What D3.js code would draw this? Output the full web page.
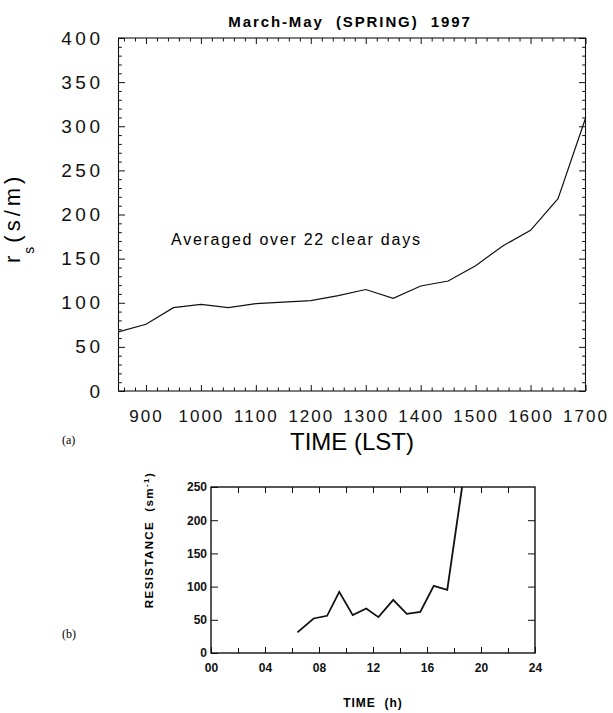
<!DOCTYPE html>
<html>
<head>
<meta charset="utf-8">
<script src="https://cdn.jsdelivr.net/npm/d3@7"></script>
<style>
  body { margin: 0; background: #fff; }
  svg { display: block; }
  .sans { font-family: "Liberation Sans", Arial, Helvetica, sans-serif; }
</style>
</head>
<body>
<svg width="613" height="713"></svg>
<script>
// ---- panel (a): averaged surface resistance, spring 1997 ----
const timeLST = [850, 900, 950, 1000, 1050, 1100, 1150, 1200, 1250, 1300, 1350, 1400, 1450, 1500, 1550, 1600, 1650, 1700];
const rsValues = [67, 75.6, 94.4, 98.2, 94.4, 98.9, 100.8, 102.5, 108, 115, 105, 119, 124.6, 142, 164.6, 182, 218, 309];
const xTicksA = [900, 1000, 1100, 1200, 1300, 1400, 1500, 1600, 1700];
const yTicksA = [0, 50, 100, 150, 200, 250, 300, 350, 400];

// ---- panel (b): resistance vs time (h) ----
const hoursB = [6.4, 7.6, 8.6, 9.5, 10.5, 11.5, 12.4, 13.5, 14.5, 15.5, 16.5, 17.5, 18.6];
const resistB = [31, 52, 56, 92, 57, 67, 54, 80, 59, 62, 101, 95, 250];
const xTicksB = [0, 4, 8, 12, 16, 20, 24];
const xTickLabelsB = ["00", "04", "08", "12", "16", "20", "24"];
const yTicksB = [0, 50, 100, 150, 200, 250];

const svg = d3.select("svg");

function styleAxis(g) {
  g.select(".domain").remove();
  g.selectAll(".tick line").attr("stroke", "#111").attr("stroke-width", 1);
}

// ===================== PANEL A =====================
const xA = d3.scaleLinear().domain([850, 1700]).range([118.5, 585.5]);
const yA = d3.scaleLinear().domain([0, 400]).range([391, 38]);
const minorXA = d3.range(860, 1700, 20).filter(v => v % 100 !== 0);
const minorYA = d3.range(10, 400, 10).filter(v => v % 50 !== 0);

const gA = svg.append("g").attr("class", "sans");

// bottom
gA.append("g").attr("transform", `translate(0,${yA(0)})`)
  .call(d3.axisBottom(xA).tickValues(xTicksA).tickSize(-6).tickPadding(19).tickFormat(d3.format("d")))
  .call(styleAxis)
  .call(g => g.selectAll("text").attr("fill", "#111").style("font-size", "17px").style("letter-spacing", "2px").attr("font-family", null));
gA.append("g").attr("transform", `translate(0,${yA(0)})`)
  .call(d3.axisBottom(xA).tickValues(minorXA).tickSize(-3.5).tickFormat(""))
  .call(styleAxis);
// top
gA.append("g").attr("transform", `translate(0,${yA(400)})`)
  .call(d3.axisTop(xA).tickValues(xTicksA).tickSize(-6).tickFormat(""))
  .call(styleAxis);
gA.append("g").attr("transform", `translate(0,${yA(400)})`)
  .call(d3.axisTop(xA).tickValues(minorXA).tickSize(-3.5).tickFormat(""))
  .call(styleAxis);
// left
gA.append("g").attr("transform", `translate(${xA(850)},0)`)
  .call(d3.axisLeft(yA).tickValues(yTicksA).tickSize(-6.5).tickPadding(15))
  .call(styleAxis)
  .call(g => g.selectAll("text").attr("fill", "#111").style("font-size", "19px").style("letter-spacing", "3.5px").attr("font-family", null));
gA.append("g").attr("transform", `translate(${xA(850)},0)`)
  .call(d3.axisLeft(yA).tickValues(minorYA).tickSize(-3.3).tickFormat(""))
  .call(styleAxis);
// right
gA.append("g").attr("transform", `translate(${xA(1700)},0)`)
  .call(d3.axisRight(yA).tickValues(yTicksA).tickSize(-6.5).tickFormat(""))
  .call(styleAxis);
gA.append("g").attr("transform", `translate(${xA(1700)},0)`)
  .call(d3.axisRight(yA).tickValues(minorYA).tickSize(-3.3).tickFormat(""))
  .call(styleAxis);

// frame
gA.append("rect")
  .attr("x", xA(850)).attr("y", yA(400))
  .attr("width", xA(1700) - xA(850)).attr("height", yA(0) - yA(400))
  .attr("fill", "none").attr("stroke", "#111").attr("stroke-width", 1.1);

// series
const lineA = d3.line().x((d, i) => xA(timeLST[i])).y(d => yA(d));
gA.append("path").datum(rsValues)
  .attr("d", lineA).attr("fill", "none").attr("stroke", "#111").attr("stroke-width", 1.2);

// title + notes
gA.append("text").attr("x", 350).attr("y", 27).attr("text-anchor", "middle")
  .style("font-size", "15px").style("font-weight", "bold").style("letter-spacing", "1.9px")
  .attr("xml:space", "preserve")
  .text("March-May  (SPRING)  1997");

gA.append("text").attr("x", 171).attr("y", 245)
  .style("font-size", "16px").style("letter-spacing", "1.75px")
  .text("Averaged over 22 clear days");

gA.append("text").attr("x", 290).attr("y", 450)
  .style("font-size", "24px")
  .text("TIME (LST)");

// y label r_s (s/m)
const yl = gA.append("text").attr("transform", "translate(20,263) rotate(-90)")
  .style("font-size", "22px");
yl.append("tspan").text("r");
yl.append("tspan").attr("dy", 14).attr("dx", 2).style("font-size", "14px").text("s");
yl.append("tspan").attr("dy", -14).attr("dx", 4).style("letter-spacing", "4px").text("(s/m)");

svg.append("text").attr("x", 62).attr("y", 444)
  .attr("font-family", "'Liberation Serif', 'Times New Roman', serif")
  .style("font-size", "12px").text("(a)");

// ===================== PANEL B =====================
const xB = d3.scaleLinear().domain([0, 24]).range([211, 535]);
const yB = d3.scaleLinear().domain([0, 250]).range([653, 487]);
const minorXB = d3.range(2, 24, 4);

const gB = svg.append("g").attr("class", "sans");

gB.append("g").attr("transform", `translate(0,${yB(0)})`)
  .call(d3.axisBottom(xB).tickValues(xTicksB).tickSize(-6).tickPadding(10.5)
    .tickFormat((d, i) => xTickLabelsB[i]))
  .call(styleAxis)
  .call(g => g.selectAll("text").attr("fill", "#111").style("font-size", "12px").style("font-weight", "bold").attr("font-family", null));
gB.append("g").attr("transform", `translate(0,${yB(0)})`)
  .call(d3.axisBottom(xB).tickValues(minorXB).tickSize(-5).tickFormat(""))
  .call(styleAxis);
gB.append("g").attr("transform", `translate(0,${yB(250)})`)
  .call(d3.axisTop(xB).tickValues(d3.range(2, 24, 2)).tickSize(-6).tickFormat(""))
  .call(styleAxis);
gB.append("g").attr("transform", `translate(${xB(0)},0)`)
  .call(d3.axisLeft(yB).tickValues(yTicksB).tickSize(-7).tickPadding(4))
  .call(styleAxis)
  .call(g => g.selectAll("text").attr("fill", "#111").style("font-size", "12px").style("font-weight", "bold").attr("font-family", null));
gB.append("g").attr("transform", `translate(${xB(24)},0)`)
  .call(d3.axisRight(yB).tickValues(yTicksB.slice(1, -1)).tickSize(-7).tickFormat(""))
  .call(styleAxis);

gB.append("rect")
  .attr("x", xB(0)).attr("y", yB(250))
  .attr("width", xB(24) - xB(0)).attr("height", yB(0) - yB(250))
  .attr("fill", "none").attr("stroke", "#111").attr("stroke-width", 1.4);

const lineB = d3.line().x((d, i) => xB(hoursB[i])).y(d => yB(d));
gB.append("path").datum(resistB)
  .attr("d", lineB).attr("fill", "none").attr("stroke", "#111")
  .attr("stroke-width", 1.8).attr("stroke-linejoin", "miter");

gB.append("text").attr("x", 373).attr("y", 707).attr("text-anchor", "middle")
  .style("font-size", "12px").style("font-weight", "bold").style("letter-spacing", "1px")
  .attr("xml:space", "preserve")
  .text("TIME  (h)");

const rl = gB.append("text").attr("transform", "translate(153,540) rotate(-90)")
  .attr("text-anchor", "middle")
  .style("font-size", "11.5px").style("font-weight", "bold").style("letter-spacing", "1.4px")
  .attr("xml:space", "preserve");
rl.append("tspan").text("RESISTANCE  (sm");
rl.append("tspan").attr("dy", -4).style("font-size", "8px").text("-1");
rl.append("tspan").attr("dy", 4).text(")");

svg.append("text").attr("x", 62).attr("y", 638)
  .attr("font-family", "'Liberation Serif', 'Times New Roman', serif")
  .style("font-size", "12px").text("(b)");
</script>
</body>
</html>
